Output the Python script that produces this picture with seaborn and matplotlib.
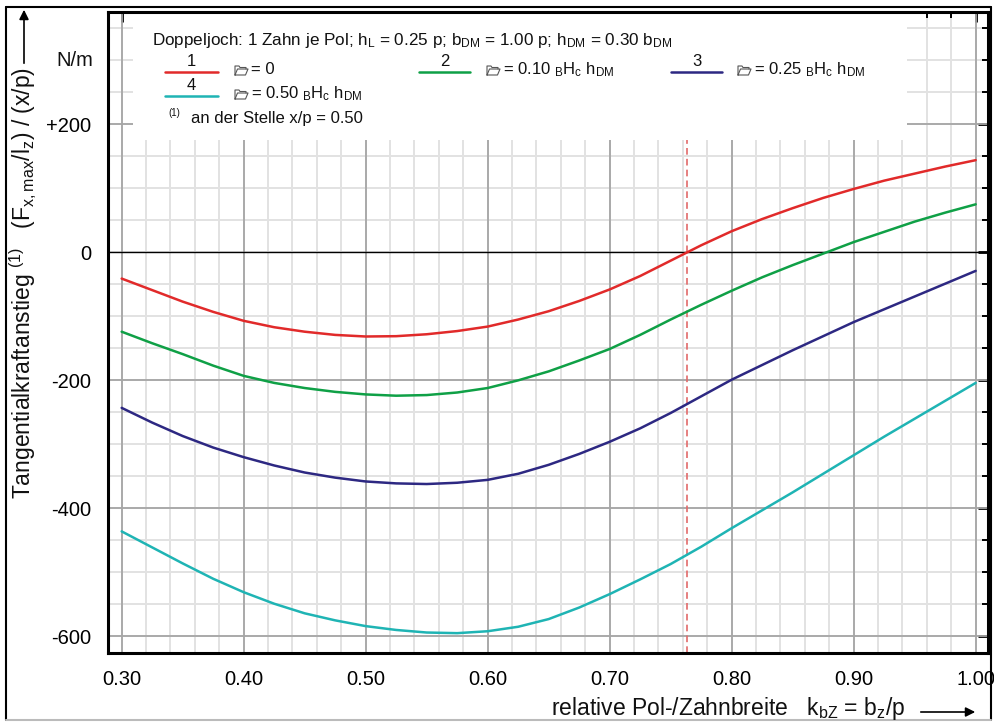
import numpy as np
import pandas as pd
import matplotlib
matplotlib.use("Agg")
import matplotlib.pyplot as plt
import seaborn as sns
from matplotlib.lines import Line2D
from matplotlib.patches import Rectangle, FancyArrowPatch

# relative pole/tooth width k_bZ = b_z/p
kbz = [0.300, 0.325, 0.350, 0.375, 0.400, 0.425, 0.450, 0.475, 0.500, 0.525,
       0.550, 0.575, 0.600, 0.625, 0.650, 0.675, 0.700, 0.725, 0.750, 0.775,
       0.800, 0.825, 0.850, 0.875, 0.900, 0.925, 0.950, 0.975, 1.000]

# tangential force slope (F_x,max/l_z)/(x/p) in N/m for the four excitation levels
kurve_1 = [-41, -59, -77, -93, -107, -117, -124, -129, -131.5, -131,
           -128, -123, -116, -105, -92, -76, -58, -37, -13, 11,
           33, 52, 69, 85, 99, 112, 123, 134, 144]
kurve_2 = [-124, -142, -159, -177, -193, -204, -212, -218, -222, -224,
           -223, -219, -212, -200, -186, -169, -151, -129, -105, -82,
           -60, -39, -20, -2, 16, 32, 48, 62, 75]
kurve_3 = [-243, -266, -287, -305, -320, -333, -344, -352, -358, -361,
           -362, -360, -355.5, -346, -332, -315, -296, -275, -251, -225,
           -199, -176, -153, -131, -109, -89, -69, -49, -29]
kurve_4 = [-436, -461, -486, -510, -531, -549, -564, -575, -584, -590,
           -594, -595, -592, -585, -573, -555, -534, -511, -487, -460,
           -431, -403, -375, -346, -317, -288, -260, -232, -204]

kurven = ["1", "2", "3", "4"]
theta = ["0", "0.10", "0.25", "0.50"]
farben = ["#e12a2a", "#0fa046", "#2d2882", "#1fb4b4"]

x_nulldurchgang = 0.763  # zero crossing of curve 1

x_ticks = [0.30, 0.40, 0.50, 0.60, 0.70, 0.80, 0.90, 1.00]
x_ticklabels = ["0.30", "0.40", "0.50", "0.60", "0.70", "0.80", "0.90", "1.00"]
y_ticks = [-600, -400, -200, 0, 200]
y_ticklabels = ["-600", "-400", "-200", "0", "+200"]

sns.set_theme(style="white")
plt.rcParams["font.family"] = ["Liberation Sans", "DejaVu Sans"]
plt.rcParams["mathtext.fontset"] = "custom"
plt.rcParams["mathtext.rm"] = "Liberation Sans"
plt.rcParams["mathtext.it"] = "Liberation Sans"
plt.rcParams["mathtext.bf"] = "Liberation Sans:bold"
plt.rcParams["mathtext.sf"] = "Liberation Sans"

W, H = 995, 722
fig = plt.figure(figsize=(W / 100, H / 100), dpi=100)


def fx(px):
    return px / W


def fy(py):
    return 1 - py / H


ax = fig.add_axes([fx(108), fy(653), 880 / W, 641 / H])

df = pd.DataFrame({
    "kbz": kbz * 4,
    "wert": kurve_1 + kurve_2 + kurve_3 + kurve_4,
    "kurve": sum([[k] * len(kbz) for k in kurven], []),
})
sns.lineplot(data=df, x="kbz", y="wert", hue="kurve", palette=dict(zip(kurven, farben)),
             linewidth=1.8, legend=False, estimator=None, ax=ax, zorder=2)

x_min, x_max = 0.2888, 1.0101
y_min, y_max = -626, 375.5
ax.set_xlim(x_min, x_max)
ax.set_ylim(y_min, y_max)

# background grid: light minor lines, darker major lines
minor_x = np.round(np.arange(0.30, 1.001, 0.02), 2)
minor_y = np.arange(-600, 351, 50)
ax.vlines(minor_x, y_min, y_max, color="#e2e2e2", lw=1.4, zorder=0.5)
ax.hlines(minor_y, x_min, x_max, color="#e2e2e2", lw=1.4, zorder=0.5)
ax.vlines(x_ticks, y_min, y_max, color="#a6a6a6", lw=1.3, zorder=0.6)
ax.hlines([v for v in y_ticks if v != 0], x_min, x_max, color="#a6a6a6", lw=1.3, zorder=0.6)
ax.axhline(0, color="black", lw=1.0, zorder=1.8)
ax.axvline(x_nulldurchgang, color="#e26a6a", lw=1.2, ls=(0, (4, 2.5)), zorder=1.9)

ax.set_xticks(x_ticks)
ax.set_xticklabels(x_ticklabels)
ax.set_yticks(y_ticks)
ax.set_yticklabels(y_ticklabels)
ax.set_xticks(minor_x, minor=True)
ax.set_yticks(minor_y, minor=True)
ax.tick_params(which="both", direction="in", top=True, right=True, colors="black")
ax.tick_params(which="major", length=7, width=2)
ax.tick_params(which="minor", length=4, width=1.4)
ax.tick_params(axis="x", which="major", labelsize=14.5, pad=12)
ax.tick_params(axis="y", which="major", labelsize=14.5, pad=12)
ax.set_xlabel("")
ax.set_ylabel("")
for s in ax.spines.values():
    s.set_visible(True)
    s.set_color("black")
    s.set_linewidth(2.2)
    s.set_zorder(2.6)

# white panel behind the legend texts
ax.add_patch(Rectangle((25 / 880, 1 - 128 / 641), 774 / 880, 128 / 641, transform=ax.transAxes,
                       facecolor="white", edgecolor="none", zorder=2.3))


def ordner_symbol(x0, yc):
    """Small open-folder sign (no installed font carries this glyph)."""
    rueck = [(0, 5), (0, -4), (4, -4), (5, -2.5), (11, -2.5), (11, -1)]
    vorn = [(0, 5), (2.5, -1), (13, -1), (10.5, 5), (0, 5)]
    for pts in (rueck, vorn):
        fig.add_artist(Line2D([fx(x0 + p[0]) for p in pts], [fy(yc + p[1]) for p in pts],
                              transform=fig.transFigure, color="#555555", lw=0.8))


# legend texts
fig.text(fx(152), fy(41), r"Doppeljoch: 1 Zahn je Pol; h$_{L}$ = 0.25 p; b$_{DM}$ = 1.00 p; h$_{DM}$ = 0.30 b$_{DM}$",
         fontsize=12.3, ha="left", va="center", color="#111111")

eintraege = [
    (165, 218, 72, 235),
    (419, 470, 72, 487),
    (671, 722, 72, 738),
    (165, 218, 96, 235),
]
for (x0, x1, yl, xt), k, th, c in zip(eintraege, kurven, theta, farben):
    fig.add_artist(Line2D([fx(x0), fx(x1)], [fy(yl), fy(yl)], transform=fig.transFigure,
                          color=c, lw=1.8))
    fig.text(fx((x0 + x1) / 2), fy(yl - 3), k, fontsize=12, ha="center", va="bottom", color="#111111")
    ordner_symbol(xt, yl - 2)
    if th == "0":
        s = "= 0"
    else:
        s = "= " + th + r" ${}_{B}$H$_{c}$ h$_{DM}$"
    fig.text(fx(xt + 16), fy(yl - 2), s, fontsize=12, ha="left", va="center", color="#111111")

fig.text(fx(168), fy(113), "(1)", fontsize=7, ha="left", va="center", color="#111111")
fig.text(fx(191), fy(119), "an der Stelle x/p = 0.50", fontsize=12, ha="left", va="center",
         color="#111111")

# axis titles
fig.text(fx(93), fy(60), "N/m", fontsize=14.5, ha="right", va="center", color="#111111")
fig.text(fx(23), fy(283),
         r"Tangentialkraftanstieg $^{(1)}$   (F$_{x,max}$/l$_{z}$) / (x/p)",
         fontsize=16.5, rotation=90, ha="center", va="center", color="#111111")
fig.add_artist(FancyArrowPatch((fx(24), fy(66)), (fx(24), fy(7)), transform=fig.transFigure,
                               arrowstyle="-|>", mutation_scale=14, color="black", lw=1.2))

fig.text(fx(905), fy(709), r"relative Pol-/Zahnbreite   k$_{bZ}$ = b$_{z}$/p", fontsize=16.5,
         ha="right", va="center", color="#111111")
fig.add_artist(FancyArrowPatch((fx(918), fy(712)), (fx(978), fy(712)), transform=fig.transFigure,
                               arrowstyle="-|>", mutation_scale=14, color="black", lw=1.2))

# figure frame
for xs, ys, c in [((6, 991), (7, 7), "black"), ((6, 6), (7, 720), "black"),
                  ((991, 991), (7, 720), "black"), ((6, 991), (720, 720), "#bbbbbb")]:
    fig.add_artist(Line2D([fx(xs[0]), fx(xs[1])], [fy(ys[0]), fy(ys[1])],
                          transform=fig.transFigure, color=c, lw=1.5))

fig.savefig("out.png", dpi=100, facecolor="white")
